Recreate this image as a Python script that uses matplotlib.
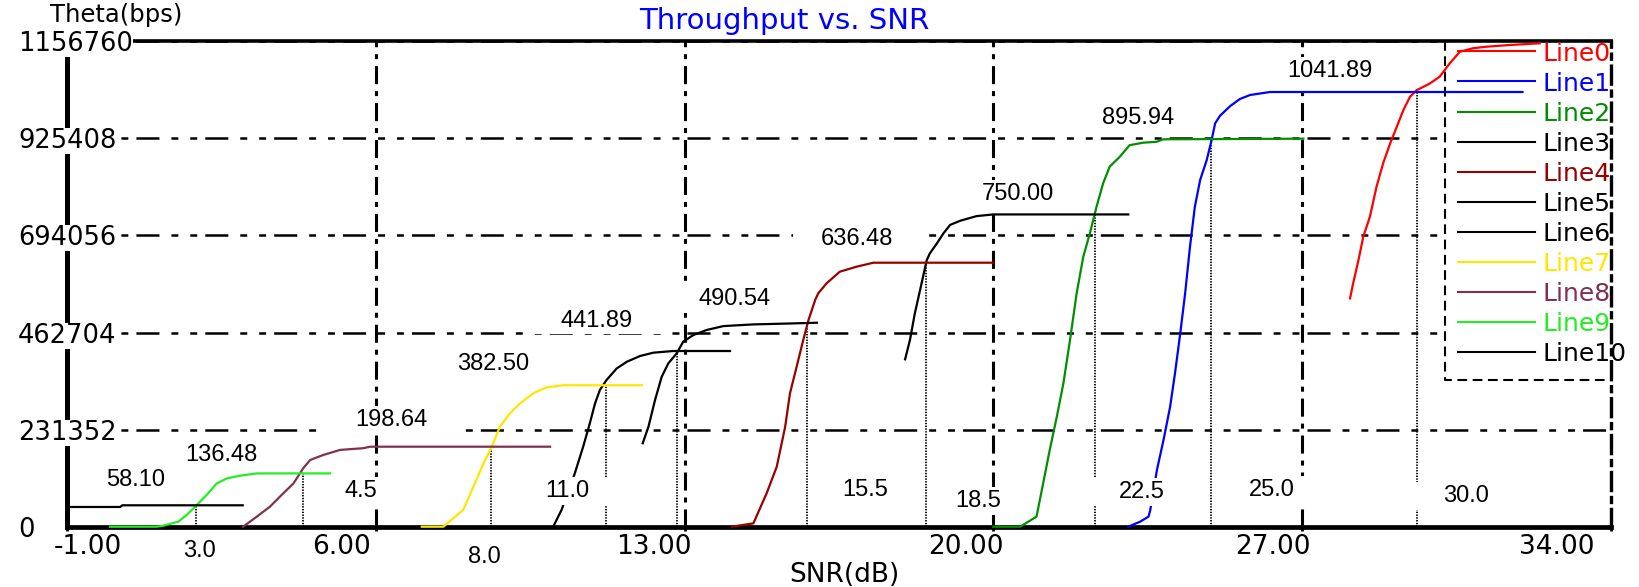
import matplotlib
matplotlib.use("Agg")
import matplotlib.pyplot as plt
from matplotlib.patches import Rectangle

plt.rcParams['lines.scale_dashes'] = False

# SNR (dB) and throughput (bps)
line0_x = [28.09, 28.16, 28.28, 28.39, 28.54, 28.69, 28.84, 29.0, 29.15, 29.30, 29.45, 29.60,
           29.90, 30.12, 30.35, 30.58, 30.88, 31.18, 31.71, 32.39]
line0_y = [544000, 580000, 635000, 691000, 738600, 810000, 866000, 913500, 953000, 993000, 1024500, 1040000,
           1056000, 1072000, 1104000, 1131700, 1140000, 1143600, 1147700, 1151700]

line1_x = [23.06, 23.33, 23.52, 23.56, 23.71, 23.86, 24.01, 24.12, 24.24, 24.35, 24.46, 24.57,
           24.69, 24.84, 24.95, 25.03, 25.14, 25.37, 25.59, 25.82, 26.27, 32.0]
line1_y = [0, 12000, 24000, 40000, 135000, 206600, 286000, 365500, 461000, 556000, 667000, 762000,
           826000, 873700, 921000, 961000, 979000, 1002000, 1019000, 1028500, 1035700, 1035700]

line2_x = [20.0, 20.61, 20.98, 21.13, 21.28, 21.44, 21.59, 21.74, 21.89, 22.04, 22.19, 22.34,
           22.49, 22.64, 22.87, 23.09, 23.40, 23.70, 23.85, 27.03]
line2_y = [0, 0, 24000, 103000, 183000, 262000, 342000, 445000, 556000, 643000, 699000, 762000,
           818000, 858000, 881600, 909000, 915000, 917000, 923000, 924500]

line3_x = [18.0, 18.11, 18.22, 18.34, 18.49, 18.56, 18.72, 18.87, 19.02, 19.25, 19.62, 20.0, 23.06]
line3_y = [398800, 444800, 508000, 564000, 635000, 651000, 675000, 699000, 719000, 729000, 740000,
           744000, 744000]

line4_x = [14.07, 14.56, 14.86, 15.09, 15.28, 15.39, 15.54, 15.69, 15.81, 15.96, 16.03, 16.22,
           16.52, 16.90, 17.28, 20.0]
line4_y = [0, 8000, 79600, 143000, 238000, 318000, 381000, 444800, 492500, 540000, 556000, 580000,
           607600, 619500, 629000, 629000]

line5_x = [12.05, 12.18, 12.33, 12.48, 12.63, 12.82, 12.97, 13.20, 13.50, 13.88, 14.56, 15.32, 16.0]
line5_y = [198700, 238000, 302000, 357000, 389000, 413000, 441000, 456700, 468700, 478000, 482000,
           484000, 486000]

line6_x = [10.02, 10.21, 10.51, 10.70, 10.85, 10.97, 11.08, 11.23, 11.46, 11.69, 11.99, 12.29, 12.74, 14.03]
line6_y = [0, 40000, 127000, 190600, 246000, 294000, 326000, 349500, 377000, 393000, 406700, 414600,
           418600, 418600]

line7_x = [7.04, 7.53, 7.98, 8.21, 8.44, 8.63, 8.81, 9.04, 9.27, 9.57, 9.87, 10.25, 12.03]
line7_y = [0, 0, 40000, 95000, 151000, 190600, 238000, 270000, 294000, 318000, 332000, 337000, 337000]

line8_x = [2.99, 3.30, 3.60, 3.90, 4.13, 4.35, 4.51, 4.81, 5.19, 5.71, 5.87, 9.95]
line8_y = [0, 24000, 48000, 79600, 103000, 139000, 159000, 171000, 183000, 187000, 190600, 190600]

line9_x = [-0.03, 1.03, 1.18, 1.52, 1.71, 1.94, 2.16, 2.39, 2.62, 2.92, 3.30, 4.96]
line9_y = [0, 0, 2400, 12000, 28000, 52000, 75500, 103000, 115000, 121600, 127000, 127000]

line10_x = [-1.0, 0.2, 0.25, 2.98]
line10_y = [47000, 47000, 51000, 51000]

names = ["Line0", "Line1", "Line2", "Line3", "Line4", "Line5", "Line6", "Line7", "Line8", "Line9", "Line10"]
colors = ["#ff0000", "#0000ff", "#008f00", "#000000", "#990000", "#000000", "#000000",
          "#ffe600", "#803050", "#22ee22", "#000000"]
all_x = [line0_x, line1_x, line2_x, line3_x, line4_x, line5_x, line6_x, line7_x, line8_x, line9_x, line10_x]
all_y = [line0_y, line1_y, line2_y, line3_y, line4_y, line5_y, line6_y, line7_y, line8_y, line9_y, line10_y]

x_ticks = [-1, 6, 13, 20, 27, 34]
x_tick_labels = ["-1.00", "6.00", "13.00", "20.00", "27.00", "34.00"]
y_ticks = [0, 231352, 462704, 694056, 925408, 1156760]
y_tick_labels = ["0", "231352", "462704", "694056", "925408", "1156760"]

# dotted markers where neighbouring curves cross
cross_x = [1.93, 4.35, 8.62, 11.21, 12.82, 15.77, 18.47, 22.31, 24.94, 29.6]
cross_y = [51700, 131000, 190600, 337600, 417000, 484600, 629000, 744000, 923000, 1035700]

rate_labels = ["58.10", "136.48", "198.64", "382.50", "441.89", "490.54", "636.48", "750.00",
               "895.94", "1041.89"]
snr_labels = ["3.0", "4.5", "8.0", "11.0", "15.5", "18.5", "22.5", "25.0", "30.0"]

# where the annotation boxes sit (data coords)
rate_pos = [(0.54, 111000), (2.50, 171000), (6.34, 254000), (8.66, 388000), (11.01, 491000),
            (14.14, 542500), (16.91, 685500), (20.56, 792700), (23.28, 973800), (27.63, 1085800)]
snr_pos = [(2.01, -58000), (5.66, 85000), (8.45, -72000), (10.35, 85000), (17.09, 87400),
           (19.66, 61000), (23.36, 82700), (26.31, 87400), (30.71, 73000)]
xlab_dx = [0.47, -0.78, -0.69, -0.62, -0.65, -1.22]

W, H = 1639, 587
fig = plt.figure(figsize=(W / 100, H / 100), dpi=100)
ax = fig.add_axes([67.2 / W, 60.3 / H, 1543.5 / W, 485.5 / H])

ax.set_xlim(-1, 34)
ax.set_ylim(0, 1156760)
ax.set_xticks(x_ticks)
ax.set_yticks(y_ticks)
ax.tick_params(labelbottom=False, labelleft=False)
ax.tick_params(axis='x', direction='out', length=3, width=2)
ax.tick_params(axis='y', length=0)
ax.set_axisbelow(True)
ax.grid(axis='y', color='black', lw=1.8, ls=(0, (16.6, 8.6, 5, 8.6, 5, 5.8)))
ax.grid(axis='x', color='black', lw=2.2, ls=(0, (13, 5, 3.6, 5)))

ax.spines['right'].set_linewidth(2.4)
ax.spines['right'].set_linestyle((0, (13, 5, 3.6, 5)))
ax.spines['left'].set_linewidth(3.6)
ax.spines['bottom'].set_linewidth(3.4)
ax.spines['top'].set_linewidth(2.6)

for xs, ys, c in zip(all_x, all_y, colors):
    ax.plot(xs, ys, color=c, lw=1.6, zorder=3, clip_on=False)

ax.vlines(cross_x, 0, cross_y, colors='black', linestyles=[(0, (1, 1))], lw=1.3, zorder=2.8)

box = dict(boxstyle='square,pad=1.2', fc='white', ec='none', mutation_aspect=0.1)
for lab, (px, py) in zip(rate_labels + snr_labels, rate_pos + snr_pos):
    ax.text(px, py, lab, ha='center', va='center', fontsize=17, family='Liberation Sans',
            bbox=box, zorder=4)

# legend, drawn by hand so it can sit flush with the top right corner
ax.add_patch(Rectangle((0.8926, 0.302), 0.1086, 0.698, transform=ax.transAxes, fc='white',
                       ec='none', zorder=1, clip_on=False))
ax.plot([0.8926, 0.8926, 1.0], [1.0, 0.302, 0.302], transform=ax.transAxes, color='black',
        lw=1.5, ls=(0, (7, 4)), zorder=1.2, clip_on=False)
for i, (name, c) in enumerate(zip(names, colors)):
    yy = 0.9788 - i * 0.0618
    ax.plot([0.901, 0.951], [yy, yy], transform=ax.transAxes, color=c, lw=1.5, zorder=4, clip_on=False)
    ax.text(0.956, yy - 0.006, name, transform=ax.transAxes, color=c, fontsize=18,
            ha='left', va='center', zorder=4)

for v, lab in zip(y_ticks, y_tick_labels):
    ax.text(-0.0319, v, lab, transform=ax.get_yaxis_transform(), ha='left', va='center_baseline',
            fontsize=18.5, bbox=dict(fc='white', ec='none', pad=0), zorder=5, clip_on=False)

for t, lab, dx in zip(x_ticks, x_tick_labels, xlab_dx):
    ax.text(t + dx, -0.041, lab, transform=ax.get_xaxis_transform(), ha='center', va='center',
            fontsize=19)

fig.text(844 / W, 1 - 575 / H, "SNR(dB)", ha='center', va='center', fontsize=19)
fig.text(50 / W, 1 - 15 / H, "Theta(bps)", ha='left', va='center', fontsize=17.5)
fig.text(784 / W, 1 - 21 / H, "Throughput vs. SNR", ha='center', va='center', fontsize=21,
         color='#0000ff')

fig.savefig("out.png", dpi=100, facecolor='white')
